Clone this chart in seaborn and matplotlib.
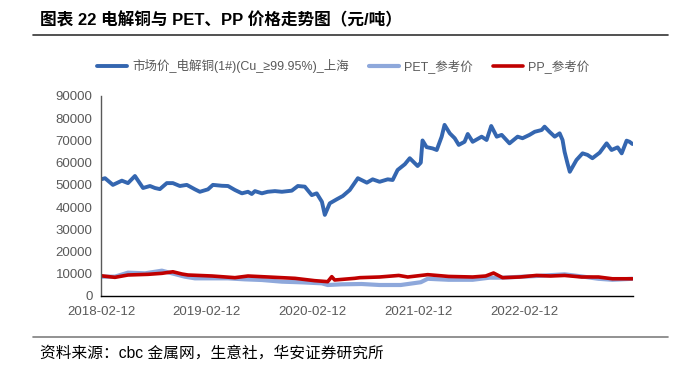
import matplotlib
matplotlib.use("Agg")
import matplotlib.pyplot as plt
import matplotlib.dates as mdates
import seaborn as sns
import pandas as pd

# ---------------- data ----------------
cu_dates = ["2018-02-12", "2018-02-26", "2018-03-25", "2018-04-25", "2018-05-16", "2018-06-09",
            "2018-07-07", "2018-07-31", "2018-08-17", "2018-09-03", "2018-09-27", "2018-10-18",
            "2018-11-11", "2018-12-05", "2019-01-02", "2019-01-19", "2019-02-16", "2019-03-05",
            "2019-04-05", "2019-04-26", "2019-05-20", "2019-06-13", "2019-07-04", "2019-07-17",
            "2019-07-28", "2019-08-21", "2019-09-10", "2019-10-05", "2019-10-29", "2019-12-02",
            "2019-12-23", "2020-01-16", "2020-02-09", "2020-02-26", "2020-03-15", "2020-03-25",
            "2020-04-11", "2020-05-05", "2020-05-26", "2020-06-19", "2020-07-17", "2020-08-17",
            "2020-09-06", "2020-09-30", "2020-10-28", "2020-11-14", "2020-12-01", "2020-12-26",
            "2021-01-12", "2021-02-08", "2021-02-19", "2021-02-25", "2021-03-11", "2021-04-01",
            "2021-04-15", "2021-05-02", "2021-05-12", "2021-05-30", "2021-06-16", "2021-06-30",
            "2021-07-20", "2021-07-31", "2021-08-17", "2021-09-17", "2021-10-04", "2021-10-20",
            "2021-11-08", "2021-11-25", "2021-12-22", "2022-01-19", "2022-02-05", "2022-03-01",
            "2022-03-19", "2022-04-12", "2022-04-22", "2022-05-09", "2022-05-27", "2022-06-13",
            "2022-06-23", "2022-06-30", "2022-07-10", "2022-07-18", "2022-08-10", "2022-08-31",
            "2022-09-17", "2022-10-04", "2022-10-29", "2022-11-22", "2022-12-09", "2022-12-30",
            "2023-01-13", "2023-01-30", "2023-02-09", "2023-02-19"]
cu_values = [52500, 53000, 50000, 51900, 50800, 54000,
             48600, 49500, 48600, 48100, 50800, 50800,
             49500, 50000, 48000, 46900, 48000, 50000,
             49600, 49500, 47700, 46200, 46900, 45900,
             47200, 46200, 46900, 47200, 46900, 47400,
             49500, 49200, 45400, 46200, 42400, 36500,
             41700, 43500, 45000, 47700, 53000, 51000,
             52500, 51400, 52500, 52200, 56700, 59300,
             62000, 58500, 60000, 70000, 67000, 66400,
             65700, 71700, 77000, 73200, 71000, 68000,
             69400, 72900, 69400, 71700, 70200, 76500,
             71700, 72500, 68700, 71700, 71000, 72500,
             73900, 74700, 76200, 73900, 71700, 73200,
             70200, 64900, 59700, 55900, 61200, 64200,
             63500, 62000, 64500, 68700, 65700, 66900,
             64200, 69900, 69400, 68400]

pet_dates = ["2018-02-12", "2018-04-01", "2018-05-16", "2018-07-14", "2018-09-10", "2018-10-15",
             "2018-11-28", "2019-01-02", "2019-04-26", "2019-06-23", "2019-08-21", "2019-10-29",
             "2020-01-06", "2020-03-15", "2020-04-04", "2020-05-22", "2020-07-30", "2020-09-30",
             "2020-12-12", "2021-02-19", "2021-03-15", "2021-05-26", "2021-08-17", "2021-10-14",
             "2021-11-28", "2022-03-25", "2022-06-30", "2022-08-28", "2022-10-25", "2022-12-12",
             "2023-02-19"]
pet_values = [8700, 8700, 10500, 10200, 11400, 10200,
              8700, 7950, 7950, 7500, 7200, 6450,
              6150, 5700, 4950, 5250, 5400, 4950,
              4950, 6200, 7750, 7300, 7300, 8250,
              8250, 9000, 9750, 8800, 7750, 7300,
              7750]

pp_dates = ["2018-02-12", "2018-04-01", "2018-05-16", "2018-07-24", "2018-09-10", "2018-10-18",
            "2018-11-18", "2018-12-09", "2019-03-02", "2019-05-20", "2019-07-04", "2019-10-05",
            "2019-12-13", "2020-02-19", "2020-04-04", "2020-04-18", "2020-04-28", "2020-07-06",
            "2020-07-24", "2020-09-30", "2020-12-05", "2021-01-05", "2021-03-15", "2021-05-26",
            "2021-08-17", "2021-10-01", "2021-10-28", "2021-11-28", "2022-01-26", "2022-03-25",
            "2022-05-13", "2022-06-30", "2022-08-28", "2022-10-25", "2022-12-12", "2023-02-19"]
pp_values = [9100, 8400, 9450, 9750, 10200, 10900,
             9900, 9450, 9000, 8250, 9000, 8400,
             7950, 6900, 6450, 8700, 7200, 7950,
             8250, 8550, 9250, 8550, 9600, 8800,
             8550, 9000, 10350, 8250, 8550, 9250,
             9000, 9250, 8550, 8550, 7750, 7750]

series_names = ["市场价_电解铜(1#)(Cu_≥99.95%)_上海", "PET_参考价", "PP_参考价"]
series_colors = ["#3466B0", "#8EA8DB", "#C00000"]
x_tick_labels = ["2018-02-12", "2019-02-12", "2020-02-12", "2021-02-12", "2022-02-12"]
y_ticks = [0, 10000, 20000, 30000, 40000, 50000, 60000, 70000, 80000, 90000]

title = "图表 22 电解铜与 PET、PP 价格走势图（元/吨）"
source = "资料来源：cbc 金属网，生意社，华安证券研究所"

# ---------------- style ----------------
sns.set_style("white")
plt.rcParams["font.family"] = ["Liberation Sans", "Noto Sans CJK SC", "DejaVu Sans"]
plt.rcParams["axes.unicode_minus"] = False

fig = plt.figure(figsize=(6.84, 3.73), dpi=100)
ax = fig.add_axes([101 / 684, 1 - 296 / 373, (633 - 101) / 684, (296 - 96) / 373])

frames = [
    (cu_dates, cu_values, 2.8),
    (pet_dates, pet_values, 3.0),
    (pp_dates, pp_values, 2.6),
]
for (d, v, lw), name, col in zip(frames, series_names, series_colors):
    df = pd.DataFrame({"date": pd.to_datetime(d), "value": v})
    sns.lineplot(data=df, x="date", y="value", ax=ax, color=col, linewidth=lw,
                 label=name, legend=False)

ax.set_xlim(pd.Timestamp("2018-02-12"), pd.Timestamp("2023-02-21"))
ax.set_ylim(0, 90000)
ax.set_yticks(y_ticks)
ax.set_yticklabels([str(t) for t in y_ticks])
ax.set_xticks([mdates.date2num(pd.Timestamp(s)) for s in x_tick_labels])
ax.set_xticklabels(x_tick_labels)
ax.set_xlabel("")
ax.set_ylabel("")

for s in ["top", "right"]:
    ax.spines[s].set_visible(False)
ax.spines["left"].set_color("#595959")
ax.spines["left"].set_linewidth(1.0)
ax.spines["bottom"].set_color("#000000")
ax.spines["bottom"].set_linewidth(1.0)
ax.tick_params(axis="both", which="major", direction="out", length=4, width=1,
               labelsize=9.5, labelcolor="#595959", colors="#595959", pad=2)
ax.tick_params(axis="x", colors="#000000", labelcolor="#595959", pad=3)

# legend
lines = ax.get_lines()
leg = fig.legend(lines[:3], series_names, loc="center", bbox_to_anchor=(343 / 684, 1 - 66 / 373),
                 ncol=3, frameon=False, handlelength=2.4, columnspacing=1.6,
                 handletextpad=0.4,
                 prop={"family": ["Liberation Sans", "Noto Sans CJK SC"], "size": 9})
for t in leg.get_texts():
    t.set_color("#595959")

# title & decorations
fig.text(40 / 684, 1 - 20 / 373, title, fontsize=12, fontweight="bold", va="center",
         ha="left", color="#000000", family=["Liberation Sans", "Noto Sans CJK SC"])
fig.add_artist(plt.Line2D([33 / 684, 668 / 684], [1 - 35 / 373, 1 - 35 / 373],
                          color="#333333", linewidth=1.2))
fig.add_artist(plt.Line2D([33 / 684, 668 / 684], [1 - 337 / 373, 1 - 337 / 373],
                          color="#7f7f7f", linewidth=1.2))
fig.text(40 / 684, 1 - 353 / 373, source, fontsize=11.3, va="center", ha="left",
         color="#000000", family=["Liberation Sans", "Noto Sans CJK SC"])

fig.savefig("out.png", dpi=100)
